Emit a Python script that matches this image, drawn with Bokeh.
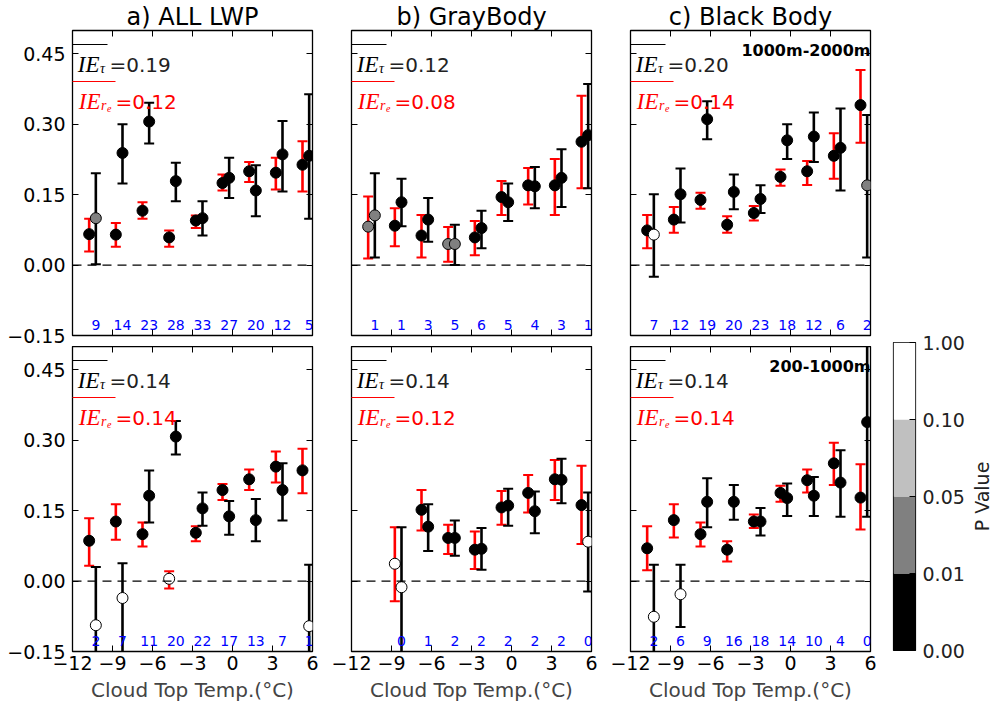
import math
import numpy as np
from bokeh.plotting import figure
from bokeh.layouts import row, column
from bokeh.models import (FixedTicker, LinearAxis, CustomJSTickFormatter, Span, Range1d)
from bokeh.core.properties import value
from bokeh.embed import file_html
from bokeh.resources import INLINE

# ---------------- data ----------------
bin_centers = [-10.5, -8.5, -6.5, -4.5, -2.5, -0.5, 1.5, 3.5, 5.5]
pair_offset = 0.25
x_ticks = [-12, -9, -6, -3, 0, 3, 6]
y_ticks = [-0.15, 0.0, 0.15, 0.30, 0.45]

p_bounds = [0.00, 0.01, 0.05, 0.10, 1.00]
p_colors = ["#000000", "#808080", "#c0c0c0", "#ffffff"]
nan = float("nan")

# top row (1000m-2000m)
a_top_re = [0.066, 0.065, 0.116, 0.059, 0.095, 0.175, 0.200, 0.197, 0.214]
a_top_re_lo = [0.029, 0.039, 0.099, 0.039, 0.079, 0.159, 0.177, 0.161, 0.157]
a_top_re_hi = [0.099, 0.090, 0.134, 0.074, 0.106, 0.193, 0.220, 0.229, 0.264]
a_top_re_p = [0.005, 0.005, 0.005, 0.005, 0.005, 0.005, 0.005, 0.005, 0.005]
a_top_tau = [0.100, 0.239, 0.306, 0.179, 0.100, 0.186, 0.159, 0.236, 0.233]
a_top_tau_lo = [0.002, 0.174, 0.259, 0.136, 0.063, 0.143, 0.104, 0.157, 0.099]
a_top_tau_hi = [0.196, 0.300, 0.346, 0.218, 0.136, 0.229, 0.213, 0.307, 0.364]
a_top_tau_p = [0.03, 0.005, 0.005, 0.005, 0.005, 0.005, 0.005, 0.005, 0.005]
a_top_n = [9, 14, 23, 28, 33, 27, 20, 12, 5]

b_top_re = [0.082, 0.084, 0.063, 0.045, 0.059, 0.145, 0.170, 0.170, 0.263]
b_top_re_lo = [0.014, 0.040, 0.016, 0.007, 0.021, 0.107, 0.129, 0.107, 0.164]
b_top_re_hi = [0.146, 0.121, 0.107, 0.081, 0.094, 0.179, 0.207, 0.226, 0.361]
b_top_re_p = [0.03, 0.005, 0.005, 0.03, 0.005, 0.005, 0.005, 0.005, 0.005]
b_top_tau = [0.106, 0.134, 0.097, 0.045, 0.079, 0.134, 0.168, 0.186, 0.277]
b_top_tau_lo = [0.016, 0.083, 0.050, 0.000, 0.036, 0.094, 0.121, 0.124, 0.164]
b_top_tau_hi = [0.196, 0.184, 0.143, 0.086, 0.116, 0.174, 0.209, 0.247, 0.386]
b_top_tau_p = [0.03, 0.005, 0.005, 0.03, 0.005, 0.005, 0.005, 0.005, 0.005]
b_top_n = [1, 1, 3, 5, 6, 5, 4, 3, 1]

c_top_re = [0.074, 0.097, 0.139, 0.086, 0.111, 0.188, 0.200, 0.233, 0.341]
c_top_re_lo = [0.036, 0.069, 0.120, 0.069, 0.095, 0.169, 0.171, 0.184, 0.261]
c_top_re_hi = [0.107, 0.124, 0.154, 0.104, 0.126, 0.204, 0.222, 0.281, 0.416]
c_top_re_p = [0.005, 0.005, 0.005, 0.005, 0.005, 0.005, 0.005, 0.005, 0.005]
c_top_tau = [0.065, 0.151, 0.311, 0.156, 0.141, 0.266, 0.274, 0.250, 0.170]
c_top_tau_lo = [-0.025, 0.091, 0.268, 0.119, 0.111, 0.226, 0.220, 0.159, 0.016]
c_top_tau_hi = [0.151, 0.206, 0.349, 0.193, 0.170, 0.300, 0.325, 0.334, 0.320]
c_top_tau_p = [0.5, 0.005, 0.005, 0.005, 0.005, 0.005, 0.005, 0.005, 0.03]
c_top_n = [7, 12, 19, 20, 23, 18, 12, 6, 2]

# bottom row (200-1000m)
a_bot_re = [0.086, 0.127, 0.100, 0.005, 0.103, 0.194, 0.217, 0.244, 0.236]
a_bot_re_lo = [0.033, 0.088, 0.074, -0.016, 0.085, 0.173, 0.194, 0.210, 0.187]
a_bot_re_hi = [0.134, 0.164, 0.125, 0.021, 0.117, 0.207, 0.238, 0.276, 0.282]
a_bot_re_p = [0.005, 0.005, 0.005, 0.5, 0.005, 0.005, 0.005, 0.005, 0.005]
a_bot_tau = [-0.094, -0.036, 0.182, 0.308, 0.155, 0.138, 0.130, 0.194, -0.096]
a_bot_tau_lo = [-0.218, -0.170, 0.125, 0.270, 0.118, 0.099, 0.085, 0.129, -0.227]
a_bot_tau_hi = [0.030, 0.038, 0.236, 0.341, 0.189, 0.171, 0.175, 0.251, 0.035]
a_bot_tau_p = [0.5, 0.5, 0.005, 0.005, 0.005, 0.005, 0.005, 0.005, 0.5]
a_bot_n = [2, 7, 11, 20, 22, 17, 13, 7, 1]

b_bot_re = [nan, 0.037, 0.152, 0.092, 0.067, 0.157, 0.188, 0.217, 0.162]
b_bot_re_lo = [nan, -0.043, 0.108, 0.058, 0.026, 0.120, 0.146, 0.173, 0.079]
b_bot_re_hi = [nan, 0.115, 0.194, 0.120, 0.106, 0.192, 0.226, 0.258, 0.246]
b_bot_re_p = [nan, 0.5, 0.005, 0.005, 0.005, 0.005, 0.005, 0.005, 0.005]
b_bot_tau = [nan, -0.013, 0.116, 0.092, 0.069, 0.161, 0.149, 0.216, 0.084]
b_bot_tau_lo = [nan, -0.200, 0.064, 0.054, 0.024, 0.118, 0.102, 0.166, -0.022]
b_bot_tau_hi = [nan, 0.115, 0.164, 0.129, 0.113, 0.197, 0.191, 0.261, 0.189]
b_bot_tau_p = [nan, 0.5, 0.005, 0.005, 0.005, 0.005, 0.005, 0.005, 0.5]
b_bot_n = [None, 0, 1, 2, 2, 2, 2, 2, 0]

c_bot_re = [0.070, 0.130, 0.100, 0.067, 0.127, 0.188, 0.215, 0.251, 0.178]
c_bot_re_lo = [0.023, 0.093, 0.074, 0.042, 0.113, 0.169, 0.189, 0.205, 0.110]
c_bot_re_hi = [0.117, 0.164, 0.125, 0.085, 0.142, 0.203, 0.238, 0.295, 0.249]
c_bot_re_p = [0.005, 0.005, 0.005, 0.005, 0.005, 0.005, 0.005, 0.005, 0.005]
c_bot_tau = [-0.076, -0.028, 0.169, 0.169, 0.127, 0.177, 0.182, 0.210, 0.339]
c_bot_tau_lo = [-0.190, -0.098, 0.115, 0.131, 0.097, 0.139, 0.139, 0.137, 0.137]
c_bot_tau_hi = [0.035, 0.035, 0.219, 0.205, 0.156, 0.208, 0.222, 0.279, 0.540]
c_bot_tau_p = [0.5, 0.5, 0.005, 0.005, 0.005, 0.005, 0.005, 0.005, 0.005]
c_bot_n = [2, 6, 9, 16, 18, 14, 10, 4, 0]

mean_ie_tau = [0.19, 0.12, 0.20, 0.14, 0.14, 0.14]
mean_ie_re = [0.12, 0.08, 0.14, 0.14, 0.12, 0.14]
titles = ["a) ALL LWP", "b) GrayBody", "c) Black Body"]
layer_names = ["1000m-2000m", "200-1000m"]
x_label = "Cloud Top Temp.(°C)"
cbar_label = "P Value"

# ---------------- helpers ----------------
X0, X1, Y0, Y1 = -12, 6, -0.15, 0.5
FW, FH = 240, 305


def dx(px):
    return X0 + px * (X1 - X0) / FW


def dy(px):
    return Y1 - px * (Y1 - Y0) / FH


def p_to_color(pv):
    out = []
    for v in pv:
        if v is None or (isinstance(v, float) and math.isnan(v)):
            out.append(p_colors[-1])
            continue
        i = int(np.searchsorted(p_bounds, v, side="right")) - 1
        out.append(p_colors[min(max(i, 0), len(p_colors) - 1)])
    return out


xfmt = "return tick.toFixed(0).replace('-', '\u2212');"
yfmt = "return tick.toFixed(2).replace('-', '\u2212');"
nofmt = "return '';"


def style_axis(ax, ticks, code, show, size="19px", standoff=6):
    ax.ticker = FixedTicker(ticks=ticks)
    ax.major_tick_in = 6
    ax.major_tick_out = 0
    ax.minor_tick_in = 0
    ax.minor_tick_out = 0
    ax.axis_line_color = None
    ax.major_tick_line_color = "black"
    ax.major_tick_line_width = 1
    if show:
        ax.formatter = CustomJSTickFormatter(code=code)
        ax.major_label_text_font = "DejaVu Sans"
        ax.major_label_text_font_size = size
        ax.major_label_text_color = "black"
        ax.major_label_standoff = standoff
    else:
        ax.formatter = CustomJSTickFormatter(code=nofmt)
        ax.major_label_text_font_size = "1px"
        ax.major_label_text_color = None
        ax.major_label_standoff = 0


def make_panel(col, rowi, re, re_lo, re_hi, re_p, tau, tau_lo, tau_hi, tau_p,
               counts, m_tau, m_re):
    left_b = [72, 21, 21][col]
    right_b = [18, 18, 10][col]
    top_b = 25 if rowi == 0 else 0
    bot_b = 11 if rowi == 0 else 52
    p = figure(frame_width=FW, frame_height=FH,
               x_range=Range1d(X0, X1), y_range=Range1d(Y0, Y1),
               output_backend="svg", toolbar_location=None,
               min_border_left=left_b, min_border_right=right_b,
               min_border_top=top_b, min_border_bottom=bot_b)
    p.grid.visible = False
    p.outline_line_color = "black"
    p.outline_line_width = 1.3
    p.background_fill_color = "white"
    p.border_fill_color = "white"

    if rowi == 0:
        p.title.text = titles[col]
        p.title.align = "center"
        p.title.text_font = "DejaVu Sans"
        p.title.text_font_size = "24px"
        p.title.text_font_style = "normal"
        p.title.text_color = "black"
        p.title.standoff = 0
    else:
        p.title.visible = False

    style_axis(p.below[0], x_ticks, xfmt, rowi == 1, "19px", 4)
    style_axis(p.left[0], y_ticks, yfmt, col == 0, "19px", 7)
    top_ax = LinearAxis()
    style_axis(top_ax, x_ticks, xfmt, False)
    p.add_layout(top_ax, "above")
    right_ax = LinearAxis()
    style_axis(right_ax, y_ticks, yfmt, False)
    p.add_layout(right_ax, "right")
    if rowi == 1:
        ax = p.below[0]
        ax.axis_label = x_label
        ax.axis_label_text_font = "DejaVu Sans"
        ax.axis_label_text_font_size = "20px"
        ax.axis_label_text_font_style = "normal"
        ax.axis_label_standoff = 5

    p.add_layout(Span(location=0, dimension="width", line_color="black",
                      line_dash="9 6", line_width=1.3))

    xr = [c - pair_offset for c in bin_centers]
    xt = [c + pair_offset for c in bin_centers]

    # IE_re (red error bars)
    p.segment(x0=xr, y0=re_lo, x1=xr, y1=re_hi, line_color="red", line_width=2.6)
    p.scatter(x=xr + xr, y=re_lo + re_hi, marker="dash", size=10,
              line_color="red", line_width=2)
    p.scatter(x=xr, y=re, marker="circle", size=11, fill_color=p_to_color(re_p),
              line_color="black", line_width=1)
    # IE_tau (black error bars)
    p.segment(x0=xt, y0=tau_lo, x1=xt, y1=tau_hi, line_color="black", line_width=2.6)
    p.scatter(x=xt + xt, y=tau_lo + tau_hi, marker="dash", size=10,
              line_color="black", line_width=2)
    p.scatter(x=xt, y=tau, marker="circle", size=11, fill_color=p_to_color(tau_p),
              line_color="black", line_width=1)

    # sample counts
    cx = [x for x, n in zip(xt, counts) if n is not None]
    ct = [str(n) for n in counts if n is not None]
    p.text(x=cx, y=[-0.128] * len(cx), text=ct, text_color="blue",
           text_align="center", text_baseline="middle",
           text_font=value("DejaVu Sans"), text_font_size="14px")

    serif = value("Liberation Serif")
    sans = value("DejaVu Sans")
    # mean IE_tau label (black)
    p.text(x=[dx(27)], y=[dy(34)], text=["IE"], text_align="right",
           text_baseline="alphabetic", text_font=serif, text_font_style="italic",
           text_font_size="23px", text_color="black")
    p.text(x=[dx(27.5)], y=[dy(38)], text=["τ"], text_align="left",
           text_baseline="alphabetic", text_font=serif, text_font_style="italic",
           text_font_size="14px", text_color="black")
    p.segment(x0=[dx(-6)], y0=[dy(14)], x1=[dx(35)], y1=[dy(14)],
              line_color="black", line_width=1.2)
    p.text(x=[dx(37)], y=[dy(34)], text=[f"={m_tau:.2f}"], text_align="left",
           text_baseline="alphabetic", text_font=sans, text_font_size="20px",
           text_color="#222222")

    # mean IE_re label (red)
    p.text(x=[dx(28)], y=[dy(71)], text=["IE"], text_align="right",
           text_baseline="alphabetic", text_font=serif, text_font_style="italic",
           text_font_size="23px", text_color="red")
    p.text(x=[dx(28.5)], y=[dy(75)], text=["r"], text_align="left",
           text_baseline="alphabetic", text_font=serif, text_font_style="italic",
           text_font_size="14px", text_color="red")
    p.text(x=[dx(34.5)], y=[dy(78)], text=["e"], text_align="left",
           text_baseline="alphabetic", text_font=serif, text_font_style="italic",
           text_font_size="10px", text_color="red")
    p.segment(x0=[dx(-6)], y0=[dy(51)], x1=[dx(43)], y1=[dy(51)],
              line_color="red", line_width=1.2)
    p.text(x=[dx(43)], y=[dy(71)], text=[f"={m_re:.2f}"], text_align="left",
           text_baseline="alphabetic", text_font=sans, text_font_size="20px",
           text_color="red")

    if col == 2:
        p.text(x=[X1], y=[dy(20)], text=[layer_names[rowi]], text_align="right",
               text_baseline="middle", text_font=sans, text_font_style="bold",
               text_font_size="16px", text_color="black")
    return p


panels_data = [
    (a_top_re, a_top_re_lo, a_top_re_hi, a_top_re_p, a_top_tau, a_top_tau_lo, a_top_tau_hi, a_top_tau_p, a_top_n),
    (b_top_re, b_top_re_lo, b_top_re_hi, b_top_re_p, b_top_tau, b_top_tau_lo, b_top_tau_hi, b_top_tau_p, b_top_n),
    (c_top_re, c_top_re_lo, c_top_re_hi, c_top_re_p, c_top_tau, c_top_tau_lo, c_top_tau_hi, c_top_tau_p, c_top_n),
    (a_bot_re, a_bot_re_lo, a_bot_re_hi, a_bot_re_p, a_bot_tau, a_bot_tau_lo, a_bot_tau_hi, a_bot_tau_p, a_bot_n),
    (b_bot_re, b_bot_re_lo, b_bot_re_hi, b_bot_re_p, b_bot_tau, b_bot_tau_lo, b_bot_tau_hi, b_bot_tau_p, b_bot_n),
    (c_bot_re, c_bot_re_lo, c_bot_re_hi, c_bot_re_p, c_bot_tau, c_bot_tau_lo, c_bot_tau_hi, c_bot_tau_p, c_bot_n),
]

figs = []
for k, d in enumerate(panels_data):
    rowi, col = divmod(k, 3)
    figs.append(make_panel(col, rowi, *d, mean_ie_tau[k], mean_ie_re[k]))

# ---------------- colour bar ----------------
CB_TOP = 342
cb = figure(frame_width=22, frame_height=308, x_range=Range1d(0, 1),
            y_range=Range1d(0, len(p_colors)), output_backend="svg",
            toolbar_location=None, y_axis_location="right",
            min_border_top=CB_TOP, min_border_bottom=20, min_border_left=13,
            min_border_right=56)
cb.grid.visible = False
cb.xaxis.visible = False
cb.outline_line_color = "black"
cb.outline_line_width = 1.2
idx = list(range(len(p_colors)))
cb.quad(left=0, right=1, bottom=idx, top=[i + 1 for i in idx],
        fill_color=p_colors, line_color=None)
yax = cb.right[0]
yax.ticker = FixedTicker(ticks=list(range(len(p_bounds))))
yax.major_label_overrides = {i: f"{b:.2f}" for i, b in enumerate(p_bounds)}
yax.major_tick_in = 6
yax.major_tick_out = 0
yax.minor_tick_in = 0
yax.minor_tick_out = 0
yax.axis_line_color = None
yax.major_label_standoff = 7
yax.major_label_text_font = "DejaVu Sans"
yax.major_label_text_font_size = "19px"
yax.major_label_text_color = "#222222"

# colour-bar label, in its own narrow figure so it reads bottom-to-top
lab = figure(frame_width=20, frame_height=308, x_range=Range1d(0, 1),
             y_range=Range1d(0, 1), output_backend="svg", toolbar_location=None,
             x_axis_location=None, y_axis_location=None,
             min_border_top=CB_TOP, min_border_bottom=20, min_border_left=0,
             min_border_right=0)
lab.grid.visible = False
lab.outline_line_color = None
lab.text(x=[0.5], y=[0.5], text=[cbar_label], angle=math.pi / 2,
         text_align="center", text_baseline="middle",
         text_font=value("DejaVu Sans"), text_font_size="19px",
         text_color="#222222")

layout = row(column(row(*figs[:3]), row(*figs[3:])), cb, lab)
open("out.html", "w").write(file_html(layout, INLINE))
